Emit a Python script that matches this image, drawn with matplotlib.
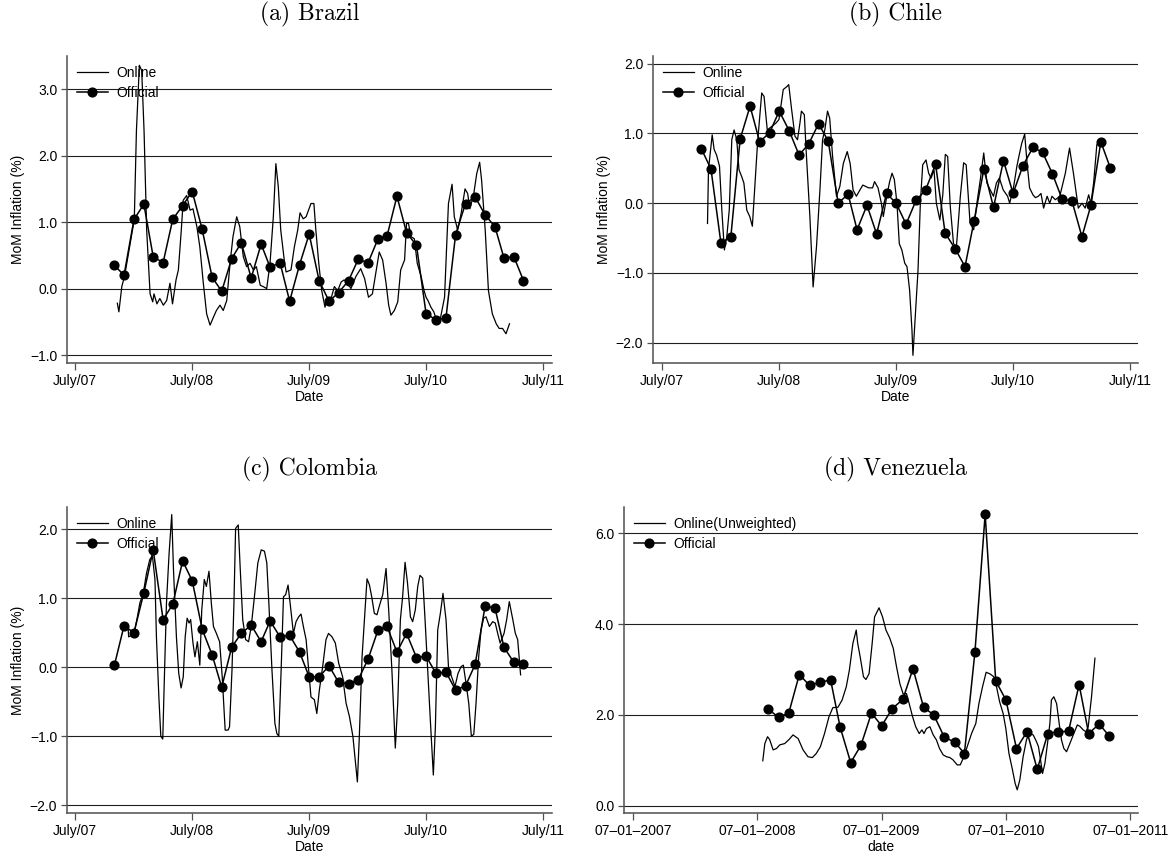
import matplotlib
matplotlib.use("Agg")
import matplotlib.pyplot as plt
import matplotlib.dates as mdates
from matplotlib.ticker import FuncFormatter
import numpy as np
import pandas as pd

plt.rcParams['font.family'] = ['Liberation Sans', 'DejaVu Sans']

# ---------------- data ----------------
# Official monthly MoM inflation (%), plotted on the 1st of each month
brazil_official_start = "2007-11-01"
brazil_official = [0.35, 0.20, 1.04, 1.27, 0.48, 0.39, 1.04, 1.25, 1.46, 0.89, 0.17, -0.04,
                   0.45, 0.69, 0.16, 0.67, 0.32, 0.39, -0.19, 0.36, 0.82, 0.12, -0.19, -0.06,
                   0.12, 0.44, 0.39, 0.75, 0.79, 1.39, 0.84, 0.65, -0.38, -0.47, -0.44, 0.81,
                   1.28, 1.38, 1.11, 0.93, 0.46, 0.48, 0.12]
chile_official_start = "2007-11-01"
chile_official = [0.78, 0.49, -0.57, -0.48, 0.92, 1.39, 0.88, 1.01, 1.32, 1.04, 0.69, 0.85,
                  1.14, 0.89, 0.00, 0.13, -0.38, -0.03, -0.44, 0.14, 0.00, -0.30, 0.04, 0.19,
                  0.56, -0.43, -0.65, -0.91, -0.26, 0.49, -0.06, 0.61, 0.14, 0.54, 0.80, 0.73,
                  0.42, 0.06, 0.03, -0.48, -0.03, 0.88, 0.50]
colombia_official_start = "2007-11-01"
colombia_official = [0.03, 0.60, 0.50, 1.08, 1.70, 0.69, 0.91, 1.54, 1.25, 0.55, 0.18, -0.29,
                     0.29, 0.49, 0.61, 0.37, 0.67, 0.44, 0.46, 0.22, -0.14, -0.14, 0.02, -0.22,
                     -0.24, -0.18, 0.12, 0.54, 0.59, 0.22, 0.49, 0.14, 0.16, -0.09, -0.07, -0.33,
                     -0.27, 0.04, 0.88, 0.86, 0.29, 0.07, 0.05]
venezuela_official_start = "2008-08-01"
venezuela_official = [2.13, 1.95, 2.04, 2.89, 2.65, 2.72, 2.77, 1.73, 0.95, 1.33, 2.04, 1.76,
                      2.14, 2.34, 3.02, 2.17, 2.00, 1.51, 1.40, 1.15, 3.39, 6.42, 2.75, 2.33,
                      1.26, 1.63, 0.80, 1.59, 1.63, 1.64, 2.67, 1.59, 1.80, 1.53]

# Online series: months elapsed since 1 July 2007, and value (%)
brazil_online_month = [4.34, 4.5, 4.8, 5.1, 5.6, 6.08, 6.3, 6.6, 6.84, 7.08, 7.35, 7.7, 7.97, 8.1,
                       8.4, 8.7, 9.06, 9.4, 9.74, 10.0, 10.36, 10.6, 10.9, 11.1, 11.45, 11.8,
                       12.1, 12.5, 12.8, 13.16, 13.5, 13.85, 14.2, 14.5, 14.87, 15.2, 15.56,
                       15.9, 16.2, 16.58, 16.9, 17.26, 17.6, 17.95, 18.3, 18.6, 19.0, 19.3,
                       19.66, 20.0, 20.34, 20.6, 20.85, 21.1, 21.5, 21.65, 22.15, 22.5, 22.84,
                       23.08, 23.4, 23.7, 24.2, 24.5, 24.7, 25.0, 25.3, 25.64, 25.9, 26.26,
                       26.6, 26.94, 27.3, 27.6, 27.97, 28.3, 28.8, 29.3, 29.7, 30.1, 30.5,
                       30.9, 31.2, 31.55, 31.9, 32.17, 32.4, 32.75, 33.1, 33.4, 33.8, 34.0,
                       34.2, 34.46, 34.8, 35.1, 35.5, 35.8, 36.0, 36.2, 36.5, 36.8, 37.2,
                       37.5, 37.9, 38.1, 38.3, 38.67, 38.9, 39.25, 39.6, 40.0, 40.27, 40.5,
                       40.9, 41.2, 41.5, 41.7, 42.07, 42.4, 42.8, 43.2, 43.5, 43.85, 44.2,
                       44.56]
brazil_online = [-0.22, -0.35, 0.03, 0.20, 0.63, 1.04, 2.38, 3.36, 3.28, 2.38, 0.88, -0.08,
                 -0.20, -0.08, -0.23, -0.15, -0.25, -0.18, 0.08, -0.23, 0.13, 0.28, 0.88, 1.33,
                 1.40, 1.18, 1.20, 0.93, 0.63, 0.08, -0.38, -0.55, -0.43, -0.33, -0.25, -0.33,
                 -0.18, 0.38, 0.78, 1.08, 0.93, 0.48, 0.33, 0.38, 0.28, 0.33, 0.05, 0.03,
                 0.00, 0.38, 1.08, 1.88, 1.53, 0.88, 0.38, 0.25, 0.28, 0.63, 0.88,
                 1.14, 1.05, 1.08, 1.28, 1.28, 0.88, 0.38, -0.03, -0.28, -0.13, -0.15,
                 0.03, -0.03, 0.10, 0.13, 0.08, 0.00, 0.18, 0.30, 0.15, -0.13, -0.08,
                 0.28, 0.55, 0.43, 0.08, -0.25, -0.40, -0.33, -0.20, 0.28, 0.43, 0.98,
                 0.98, 0.78, 0.75, 0.38, 0.18, -0.03, -0.13, -0.18, -0.28, -0.35, -0.53,
                 -0.43, -0.13, 0.58, 1.28, 1.57, 1.08, 0.88, 1.13, 1.50, 1.43, 1.20,
                 1.43, 1.73, 1.90, 1.63, 0.88, -0.03, -0.38, -0.53, -0.60, -0.60, -0.68,
                 -0.53]

chile_online_month = [4.67, 4.77, 5.15, 5.35, 5.6, 5.9, 6.14, 6.4, 6.65, 6.9, 7.16, 7.4, 7.67,
                      7.9, 8.18, 8.4, 8.7, 9.0, 9.27, 9.5, 9.8, 10.23, 10.47, 10.8, 11.25,
                      11.7, 12.0, 12.44, 12.8, 13.0, 13.3, 13.64, 13.9, 14.15, 14.3, 14.6,
                      14.8, 15.17, 15.5, 15.85, 16.2, 16.47, 16.7, 16.98, 17.2, 17.5, 17.9,
                      18.24, 18.6, 19.0, 19.3, 19.6, 19.94, 20.3, 20.6, 21.2, 21.6, 21.8,
                      22.16, 22.5, 22.7, 23.08, 23.35, 23.6, 23.83, 24.1, 24.34, 24.6, 24.9,
                      25.13, 25.4, 25.64, 25.74, 26.0, 26.26, 26.5, 26.74, 27.08, 27.35,
                      27.6, 27.9, 28.14, 28.5, 28.8, 29.06, 29.3, 29.57, 29.9, 30.2, 30.6,
                      30.94, 31.2, 31.6, 31.97, 32.3, 32.65, 33.0, 33.33, 33.67, 34.0, 34.3,
                      34.6, 35.0, 35.45, 35.66, 36.07, 36.4, 36.65, 36.9, 37.2, 37.44, 37.7,
                      38.05, 38.3, 38.6, 38.87, 39.14, 39.5, 39.77, 40.0, 40.34, 40.8, 41.37,
                      41.8, 42.2, 42.7, 43.08, 43.4, 43.76, 44.0, 44.27, 44.6, 44.96]
chile_online = [-0.29, 0.48, 0.98, 0.77, 0.69, 0.53, -0.10, -0.67, -0.48, -0.10, 0.91, 1.05,
                0.91, 0.48, 0.38, 0.29, -0.10, -0.19, -0.33, 0.19, 0.86, 1.58, 1.53, 1.05,
                1.10, 1.15, 1.20, 1.63, 1.67, 1.70, 1.34, 0.96, 0.91, 1.15, 1.32, 1.27,
                0.72, -0.19, -1.20, -0.62, 0.19, 0.91, 1.05, 1.32, 1.22, 0.67, 0.10,
                0.24, 0.57, 0.74, 0.57, 0.19, 0.10, 0.19, 0.26, 0.22, 0.22, 0.31,
                0.22, 0.00, -0.19, 0.12, 0.31, 0.43, 0.34, 0.00, -0.58, -0.67, -0.86,
                -0.91, -1.25, -1.82, -2.18, -1.58, -0.96, 0.00, 0.55, 0.62, 0.43,
                0.36, 0.48, 0.00, -0.24, 0.12, 0.70, 0.67, -0.05, -0.58, -0.62, 0.10,
                0.58, 0.55, -0.29, -0.38, 0.00, 0.34, 0.72, 0.29, 0.19, 0.10, 0.29,
                0.36, 0.19, 0.10, 0.00, 0.24, 0.53, 0.70, 0.86, 0.99, 0.58, 0.22,
                0.12, 0.08, 0.10, 0.14, -0.07, 0.10, 0.00, 0.10, 0.05, 0.10, 0.43,
                0.79, 0.43, -0.07, 0.00, -0.07, 0.12, 0.00, 0.29, 0.84, 0.86]

colombia_online_month = [5.46, 5.5, 5.9, 6.1, 6.4, 6.65, 7.0, 7.33, 7.67, 7.94, 8.2, 8.35, 8.6,
                         8.8, 9.0, 9.14, 9.38, 9.65, 9.92, 10.1, 10.4, 10.64, 10.88, 11.1,
                         11.3, 11.5, 11.7, 11.86, 12.1, 12.3, 12.55, 12.8, 13.0, 13.26,
                         13.47, 13.74, 13.98, 14.2, 14.5, 14.83, 15.1, 15.4, 15.7, 15.85,
                         16.1, 16.3, 16.47, 16.74, 16.95, 17.2, 17.5, 17.8, 18.07, 18.4,
                         18.75, 19.1, 19.43, 19.67, 19.88, 20.2, 20.5, 20.7, 20.9, 21.14,
                         21.38, 21.6, 21.85, 22.1, 22.4, 22.67, 22.94, 23.18, 23.42, 23.7,
                         23.97, 24.2, 24.55, 24.8, 25.06, 25.4, 25.74, 26.0, 26.36, 26.7,
                         27.04, 27.45, 27.8, 28.14, 28.5, 28.7, 28.96, 29.16, 29.44, 29.7,
                         29.95, 30.2, 30.43, 30.7, 30.97, 31.2, 31.56, 31.9, 32.17, 32.5,
                         32.85, 33.1, 33.37, 33.6, 33.85, 34.1, 34.4, 34.63, 34.9, 35.15,
                         35.38, 35.66, 35.9, 36.17, 36.44, 36.75, 36.96, 37.2, 37.47, 37.74,
                         38.05, 38.3, 38.63, 38.97, 39.28, 39.6, 39.83, 40.1, 40.38, 40.65,
                         40.9, 41.13, 41.4, 41.64, 41.9, 42.15, 42.5, 42.84, 43.1, 43.35,
                         43.6, 44.0, 44.27, 44.54, 44.9, 45.16, 45.4, 45.57, 45.7]
colombia_online = [0.54, 0.44, 0.47, 0.52, 0.73, 0.93, 1.07, 1.36, 1.56, 1.61, 1.27, 0.44,
                   -0.43, -1.00, -1.04, -0.28, 0.93, 1.65, 2.21, 1.41, 0.44, -0.09, -0.30,
                   -0.14, 0.44, 0.71, 0.64, 0.69, 0.35, 0.15, 0.37, 0.03, 0.83, 1.27, 1.17,
                   1.39, 0.93, 0.59, 0.49, 0.37, -0.14, -0.91, -0.91, -0.86, -0.04, 0.93,
                   2.01, 2.06, 1.41, 0.69, 0.40, 0.37, 0.59, 1.02, 1.51, 1.70, 1.68, 1.51,
                   0.93, -0.04, -0.81, -0.96, -1.00, -0.04, 1.02, 1.05, 1.19, 0.88, 0.49,
                   0.66, 0.73, 0.77, 0.59, 0.40, -0.04, -0.43, -0.47, -0.67, -0.33, 0.01,
                   0.40, 0.49, 0.44, 0.35, 0.06, -0.14, -0.52, -0.71, -1.00, -1.29, -1.66,
                   -1.00, 0.15, 0.73, 1.28, 1.19, 1.02, 0.78, 0.76, 0.88, 1.05, 1.43, 0.83,
                   -0.04, -1.17, -0.52, 0.69, 1.02, 1.52, 1.22, 0.73, 0.66, 0.83, 1.17,
                   1.33, 1.29, 0.69, -0.04, -0.76, -1.56, -0.86, 0.54, 0.78, 1.07, 0.69,
                   0.01, -0.14, -0.28, -0.09, 0.01, 0.03, -0.23, -0.52, -1.00, -0.97, -0.52,
                   0.15, 0.54, 0.71, 0.73, 0.59, 0.66, 0.64, 0.49, 0.35, 0.49, 0.69, 0.95,
                   0.69, 0.49, 0.40, 0.11, -0.11]

venezuela_online_month = [12.54, 12.74, 13.0, 13.2, 13.54, 13.86, 14.18, 14.66, 15.08, 15.46,
                          15.95, 16.43, 16.9, 17.32, 17.7, 18.1, 18.5, 18.93, 19.3, 19.8,
                          20.2, 20.6, 20.9, 21.24, 21.56, 21.7, 21.94, 22.26, 22.5, 22.8,
                          23.1, 23.33, 23.76, 24.1, 24.43, 24.8, 25.13, 25.45, 25.77, 26.09,
                          26.41, 26.67, 27.0, 27.3, 27.64, 27.9, 28.1, 28.34, 28.67, 28.99,
                          29.3, 29.6, 29.95, 30.27, 30.6, 30.9, 31.3, 31.6, 31.95, 32.27,
                          32.69, 33.1, 33.4, 33.75, 34.1, 34.5, 34.84, 35.1, 35.4, 35.74,
                          36.0, 36.3, 36.64, 36.9, 37.1, 37.35, 37.67, 38.0, 38.3, 38.64,
                          38.96, 39.15, 39.35, 39.54, 39.77, 40.02, 40.25, 40.4, 40.63, 40.9,
                          41.15, 41.37, 41.6, 41.86, 42.18, 42.56, 42.9, 43.14, 43.47, 43.72,
                          43.95, 44.27, 44.6]
venezuela_online = [0.99, 1.37, 1.52, 1.46, 1.23, 1.26, 1.34, 1.37, 1.46, 1.56, 1.48, 1.23,
                    1.08, 1.06, 1.15, 1.30, 1.59, 1.96, 2.16, 2.17, 2.33, 2.62, 2.99, 3.58,
                    3.87, 3.58, 3.28, 2.84, 2.78, 2.91, 3.58, 4.16, 4.36, 4.16, 3.87, 3.69,
                    3.47, 3.06, 2.69, 2.46, 2.47, 2.25, 1.96, 1.74, 1.59, 1.67, 1.59, 1.70,
                    1.74, 1.56, 1.45, 1.26, 1.12, 1.08, 1.06, 1.01, 0.90, 0.90, 1.08, 1.30,
                    1.59, 1.81, 2.25, 2.62, 2.94, 2.90, 2.84, 2.62, 2.29, 2.03, 1.70, 1.15,
                    0.79, 0.49, 0.35, 0.57, 1.08, 1.46, 1.59, 1.56, 1.41, 1.30, 1.01, 0.71,
                    0.93, 1.37, 1.81, 2.33, 2.40, 2.25, 1.81, 1.45, 1.26, 1.19, 1.37, 1.59,
                    1.78, 1.75, 1.67, 1.63, 1.74, 2.40, 3.25]

panel_titles = ["(a) Brazil", "(b) Chile", "(c) Colombia", "(d) Venezuela"]
online_labels = ["Online", "Online", "Online", "Online(Unweighted)"]
official_label = "Official"
tick_years = [2007, 2008, 2009, 2010, 2011]
tick_labels_short = ["July/07", "July/08", "July/09", "July/10", "July/11"]
tick_labels_long = ["07\u201301\u20132007", "07\u201301\u20132008", "07\u201301\u20132009",
                    "07\u201301\u20132010", "07\u201301\u20132011"]
yticks_a = [-1, 0, 1, 2, 3]
yticks_b = [-2, -1, 0, 1, 2]
yticks_c = [-2, -1, 0, 1, 2]
yticks_d = [0, 2, 4, 6]
ylabel_text = "MoM Inflation (%)"

BASE = pd.Timestamp("2007-07-01")


def online_dates(months):
    return BASE + pd.to_timedelta(np.asarray(months) * 30.4375, unit="D")


def official_dates(start, n):
    return pd.date_range(start, periods=n, freq="MS")


# ---------------- figure ----------------
W, H = 1176, 859
fig = plt.figure(figsize=(W / 100, H / 100), dpi=100)


def rect(l, r, t, b):
    return [l / W, 1 - b / H, (r - l) / W, (b - t) / H]


panels = [
    dict(rect=rect(67, 552, 56, 363), xlim=("2007-06-06", "2011-07-29"), ylim=(-1.12, 3.50),
         yticks=yticks_a, off_start=brazil_official_start, off=brazil_official,
         on_m=brazil_online_month, on=brazil_online, ticklabels=tick_labels_short,
         xlabel="Date", ylabel=True, title_xy=(310, 14)),
    dict(rect=rect(653, 1138, 56, 363), xlim=("2007-06-03", "2011-07-26"), ylim=(-2.29, 2.11),
         yticks=yticks_b, off_start=chile_official_start, off=chile_official,
         on_m=chile_online_month, on=chile_online, ticklabels=tick_labels_short,
         xlabel="Date", ylabel=True, title_xy=(895, 14)),
    dict(rect=rect(67, 552, 507, 813), xlim=("2007-06-06", "2011-07-29"), ylim=(-2.11, 2.32),
         yticks=yticks_c, off_start=colombia_official_start, off=colombia_official,
         on_m=colombia_online_month, on=colombia_online, ticklabels=tick_labels_short,
         xlabel="Date", ylabel=True, title_xy=(310, 469)),
    dict(rect=rect(624, 1138, 507, 813), xlim=("2007-06-05", "2011-07-24"), ylim=(-0.16, 6.58),
         yticks=yticks_d, off_start=venezuela_official_start, off=venezuela_official,
         on_m=venezuela_online_month, on=venezuela_online, ticklabels=tick_labels_long,
         xlabel="date", ylabel=False, title_xy=(895, 469)),
]

fmt = FuncFormatter(lambda v, p: ("%.1f" % v).replace("-", "\u2212"))
spine_col = "#505050"

for i, P in enumerate(panels):
    ax = fig.add_axes(P["rect"])
    l_on, = ax.plot(online_dates(P["on_m"]), P["on"], color="black", lw=0.9,
                    label=online_labels[i], zorder=2)
    l_off, = ax.plot(official_dates(P["off_start"], len(P["off"])), P["off"], color="black",
                     lw=1.1, marker="o", ms=6.3, mfc="black", mec="black",
                     label=official_label, zorder=3)
    ax.set_xlim(pd.Timestamp(P["xlim"][0]), pd.Timestamp(P["xlim"][1]))
    ax.set_ylim(*P["ylim"])
    ax.set_xticks([pd.Timestamp(f"{y}-07-01") for y in tick_years])
    ax.set_xticklabels(P["ticklabels"])
    ax.set_yticks(P["yticks"])
    ax.yaxis.set_major_formatter(fmt)
    ax.grid(axis="y", color="#1e1e1e", lw=0.8)
    ax.grid(axis="x", visible=False)
    ax.set_axisbelow(True)
    for s in ["top", "right"]:
        ax.spines[s].set_visible(False)
    for s in ["left", "bottom"]:
        ax.spines[s].set_color(spine_col)
        ax.spines[s].set_linewidth(1.1)
    ax.tick_params(axis="x", direction="out", length=5, width=0.9, color=spine_col,
                   pad=3, labelsize=10)
    ax.tick_params(axis="y", direction="out", length=4, width=0.9, color=spine_col,
                   pad=3, labelsize=10)
    axw = P["rect"][2] * W
    axh = P["rect"][3] * H
    ax.set_xlabel(P["xlabel"], fontsize=10)
    ax.xaxis.label.set_va("center")
    ax.xaxis.set_label_coords(0.5, -34 / axh)
    if P["ylabel"]:
        ax.set_ylabel(ylabel_text, fontsize=10)
        ax.yaxis.label.set_va("center")
        ax.yaxis.set_label_coords(-49 / axw, 0.5)
    leg = ax.legend(handles=[l_on, l_off], loc="upper left",
                    bbox_to_anchor=(10 / axw, 1 - 10 / axh), frameon=False,
                    borderpad=0, borderaxespad=0, handlelength=2.2, handletextpad=0.6,
                    labelspacing=0.42, fontsize=10, numpoints=1)
    leg.set_zorder(1.5)
    tx, ty = P["title_xy"]
    fig.text(tx / W, 1 - ty / H, panel_titles[i], ha="center", va="center",
             fontfamily="cmr10", fontsize=17)

fig.savefig("out.png", dpi=100)
